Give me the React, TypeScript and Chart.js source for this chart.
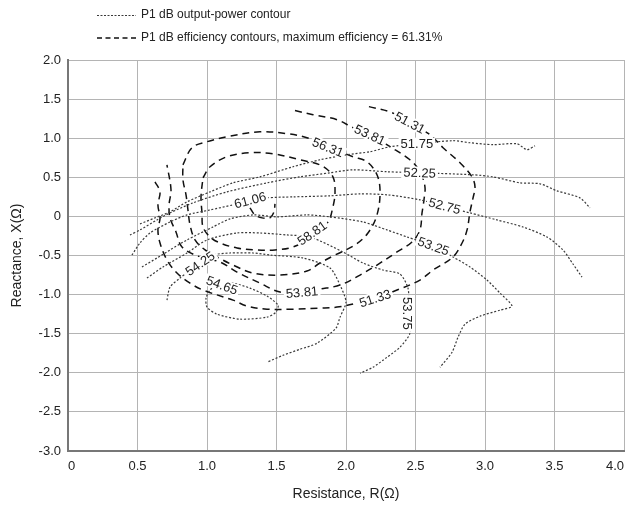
import React, { useEffect, useRef } from "react";
import { Chart, registerables } from "chart.js";

Chart.register(...registerables);

type Pt = [number, number];

const FONT = "'Liberation Sans', Arial, Helvetica, sans-serif";

const xTicks = [0, 0.5, 1, 1.5, 2, 2.5, 3, 3.5, 4];
const yTicks = [2, 1.5, 1, 0.5, 0, -0.5, -1, -1.5, -2, -2.5, -3];
const xTitle = "Resistance, R(Ω)";
const yTitle = "Reactance, X(Ω)";
const legendLabels = [
  "P1 dB output-power contour",
  "P1 dB efficiency contours, maximum efficiency = 61.31%",
];

// ---- P1 dB output-power contours (dotted) ----
const power5175: Pt[] = [
  [0.518, -0.096], [0.626, -0.019], [0.734, 0.058], [0.856, 0.186], [1.022, 0.314],
  [1.187, 0.429], [1.381, 0.506], [1.619, 0.635], [1.813, 0.724], [2.007, 0.788],
  [2.173, 0.827], [2.317, 0.891], [2.511, 0.929], [2.77, 0.968], [2.892, 0.942],
  [3.058, 0.917], [3.23, 0.929], [3.302, 0.853], [3.36, 0.904],
];
const power5225: Pt[] = [
  [0.446, -0.237], [0.518, -0.173], [0.64, -0.045], [0.734, 0.045], [0.899, 0.173],
  [1.144, 0.314], [1.432, 0.429], [1.669, 0.506], [1.885, 0.558], [2.05, 0.596],
  [2.295, 0.571], [2.532, 0.558], [2.914, 0.532], [3.058, 0.506], [3.252, 0.429],
  [3.396, 0.417], [3.518, 0.327], [3.683, 0.237], [3.755, 0.109],
];
const power5275: Pt[] = [
  [0.46, -0.494], [0.518, -0.34], [0.59, -0.212], [0.734, -0.071], [0.856, 0.019],
  [1.022, 0.083], [1.187, 0.147], [1.309, 0.199], [1.432, 0.237], [1.619, 0.25],
  [1.885, 0.263], [2.101, 0.288], [2.295, 0.276], [2.532, 0.212], [2.748, 0.109],
  [2.892, 0.045], [3.086, -0.045], [3.273, -0.135], [3.446, -0.263], [3.561, -0.429],
  [3.633, -0.609], [3.698, -0.776],
];
const power5325: Pt[] = [
  [0.532, -0.647], [0.64, -0.532], [0.734, -0.429], [0.856, -0.301], [1.043, -0.135],
  [1.165, -0.032], [1.331, 0.019], [1.504, -0.006], [1.719, 0.019], [1.885, -0.006],
  [2.122, -0.071], [2.295, -0.173], [2.439, -0.263], [2.626, -0.378], [2.77, -0.519],
  [2.892, -0.647], [3.014, -0.814], [3.108, -0.981], [3.194, -1.147], [3.108, -1.199],
  [2.964, -1.276], [2.856, -1.378], [2.806, -1.545], [2.763, -1.737], [2.676, -1.929],
];
const power5375: Pt[] = [
  [0.568, -0.788], [0.683, -0.647], [0.856, -0.468], [1.0, -0.301], [1.216, -0.212],
  [1.381, -0.212], [1.576, -0.237], [1.741, -0.263], [1.978, -0.455], [2.122, -0.596],
  [2.266, -0.686], [2.388, -0.737], [2.446, -0.917], [2.453, -1.199], [2.46, -1.494],
  [2.388, -1.673], [2.295, -1.801], [2.194, -1.929], [2.101, -2.006],
];
const power5425: Pt[] = [
  [0.712, -1.071], [0.734, -0.904], [0.806, -0.788], [0.95, -0.596], [1.043, -0.494],
  [1.165, -0.468], [1.331, -0.468], [1.453, -0.494], [1.691, -0.532], [1.885, -0.66],
  [1.957, -0.878], [2.0, -1.096], [1.957, -1.288], [1.928, -1.429], [1.791, -1.622],
  [1.669, -1.699], [1.547, -1.776], [1.432, -1.865],
];
const power5465: Pt[] = [
  [1.094, -0.84], [1.187, -0.853], [1.309, -0.917], [1.432, -1.019], [1.511, -1.135],
  [1.496, -1.224], [1.432, -1.288], [1.237, -1.314], [1.072, -1.25], [1.0, -1.16],
  [0.993, -1.045], [1.022, -0.942], [1.094, -0.84],
];

// ---- P1 dB efficiency contours (dashed) ----
const eff5131: Pt[] = [
  [2.165, 1.404], [2.331, 1.327], [2.46, 1.199], [2.604, 1.045], [2.698, 0.878],
  [2.82, 0.686], [2.906, 0.506], [2.928, 0.378], [2.914, 0.237], [2.892, 0.058],
  [2.871, -0.173], [2.835, -0.34], [2.77, -0.519], [2.626, -0.686], [2.532, -0.814],
  [2.367, -0.942], [2.209, -1.045], [2.079, -1.109], [1.935, -1.16], [1.813, -1.173],
  [1.619, -1.186], [1.432, -1.186], [1.288, -1.147], [1.187, -1.071], [0.971, -0.942],
  [0.878, -0.853], [0.784, -0.724], [0.712, -0.558], [0.662, -0.34], [0.647, -0.173],
  [0.662, -0.019], [0.647, 0.147], [0.662, 0.314], [0.626, 0.442],
];
const eff5381: Pt[] = [
  [1.633, 1.353], [1.763, 1.301], [1.935, 1.237], [2.05, 1.135], [2.173, 1.045],
  [2.317, 0.891], [2.46, 0.724], [2.532, 0.571], [2.568, 0.378], [2.561, 0.212],
  [2.547, 0.045], [2.532, -0.173], [2.475, -0.327], [2.367, -0.455], [2.223, -0.622],
  [2.101, -0.75], [1.957, -0.878], [1.813, -0.929], [1.683, -0.968], [1.525, -0.968],
  [1.381, -0.853], [1.216, -0.712], [1.094, -0.583], [0.95, -0.519], [0.82, -0.391],
  [0.777, -0.199], [0.734, -0.019], [0.727, 0.147], [0.741, 0.34], [0.712, 0.66],
];
const eff5631: Pt[] = [
  [0.827, 0.66], [0.892, 0.878], [1.0, 0.955], [1.144, 1.019], [1.381, 1.083],
  [1.576, 1.058], [1.719, 1.006], [1.871, 0.891], [2.05, 0.763], [2.151, 0.699],
  [2.223, 0.532], [2.245, 0.314], [2.223, 0.019], [2.158, -0.212], [2.065, -0.365],
  [1.921, -0.494], [1.813, -0.596], [1.719, -0.699], [1.525, -0.75], [1.331, -0.724],
  [1.187, -0.622], [1.072, -0.519], [0.986, -0.429], [0.914, -0.301], [0.878, -0.109],
  [0.863, 0.083], [0.849, 0.276], [0.827, 0.468], [0.827, 0.66],
];
const eff5881: Pt[] = [
  [0.971, 0.494], [1.022, 0.635], [1.144, 0.763], [1.309, 0.814], [1.475, 0.801],
  [1.669, 0.724], [1.827, 0.647], [1.906, 0.506], [1.921, 0.301], [1.906, 0.122],
  [1.871, -0.071], [1.763, -0.25], [1.619, -0.391], [1.489, -0.429], [1.345, -0.429],
  [1.216, -0.404], [1.094, -0.34], [1.022, -0.263], [0.971, -0.135], [0.964, 0.045],
  [0.957, 0.25], [0.971, 0.494],
];
const eff6106: Pt[] = [
  [1.309, 0.109], [1.345, 0.019], [1.396, -0.019], [1.453, -0.019], [1.482, 0.058],
  [1.489, 0.16],
];

// ---- contour labels ----
const contourLabels = [
  "51.75", "52.25", "52.75", "53.25", "53.75", "54.25", "54.65",
  "51.31", "51.33", "53.81", "53.81", "56.31", "58.81", "61.06",
];
const contourLabelX = [2.51, 2.53, 2.71, 2.63, 2.446, 0.95, 1.108, 2.46, 2.209, 2.173, 1.683, 1.871, 1.755, 1.31];
const contourLabelY = [0.93, 0.56, 0.135, -0.378, -1.24, -0.6, -0.878, 1.2, -1.045, 1.045, -0.968, 0.885, -0.212, 0.21];
const contourLabelAngle = [0, 2, 15, 20, 90, -35, 20, 28, -18, 25, -5, 22, -35, -15];

const powerContours = [power5175, power5225, power5275, power5325, power5375, power5425, power5465];
const effContours = [eff5131, eff5381, eff5631, eff5881, eff6106];

const labelPlugin = {
  id: "contourLabels",
  afterDatasetsDraw(chart: any) {
    const { ctx } = chart;
    const xs = chart.scales.x;
    const ys = chart.scales.y;
    ctx.save();
    ctx.font = `13px ${FONT}`;
    ctx.textAlign = "center";
    ctx.textBaseline = "middle";
    contourLabels.forEach((t, i) => {
      const px = xs.getPixelForValue(contourLabelX[i]);
      const py = ys.getPixelForValue(contourLabelY[i]);
      ctx.save();
      ctx.translate(px, py);
      ctx.rotate((contourLabelAngle[i] * Math.PI) / 180);
      const w = ctx.measureText(t).width;
      ctx.fillStyle = "#ffffff";
      ctx.fillRect(-w / 2 - 2, -6, w + 4, 12);
      ctx.fillStyle = "#222";
      ctx.fillText(t, 0, 1);
      ctx.restore();
    });
    ctx.restore();
  },
};

const legendPlugin = {
  id: "topLegend",
  afterDraw(chart: any) {
    const { ctx } = chart;
    ctx.save();
    ctx.font = `12px ${FONT}`;
    ctx.fillStyle = "#222";
    ctx.textBaseline = "middle";
    ctx.textAlign = "left";
    ctx.strokeStyle = "#3a3a3a";
    ctx.lineWidth = 1.1;
    ctx.setLineDash([2, 1.5]);
    ctx.beginPath();
    ctx.moveTo(97, 15.5);
    ctx.lineTo(136, 15.5);
    ctx.stroke();
    ctx.fillText(legendLabels[0], 141, 15);
    ctx.strokeStyle = "#111";
    ctx.lineWidth = 1.6;
    ctx.setLineDash([5, 3.5]);
    ctx.beginPath();
    ctx.moveTo(97, 38);
    ctx.lineTo(137, 38);
    ctx.stroke();
    ctx.fillText(legendLabels[1], 141, 38);
    ctx.restore();
  },
};

export default function App() {
  const ref = useRef<HTMLCanvasElement | null>(null);

  useEffect(() => {
    if (!ref.current) return;
    const datasets: any[] = [
      ...powerContours.map((c) => ({
        data: c.map(([x, y]) => ({ x, y })),
        borderColor: "#3a3a3a",
        borderWidth: 1.2,
        borderDash: [2, 1.8],
        pointRadius: 0,
        showLine: true,
        tension: 0.25,
        fill: false,
      })),
      ...effContours.map((c) => ({
        data: c.map(([x, y]) => ({ x, y })),
        borderColor: "#111",
        borderWidth: 1.5,
        borderDash: [7, 5],
        pointRadius: 0,
        showLine: true,
        tension: 0.35,
        fill: false,
      })),
    ];
    const chart = new Chart(ref.current, {
      type: "scatter",
      data: { datasets },
      plugins: [labelPlugin, legendPlugin],
      options: {
        animation: false,
        responsive: false,
        layout: { padding: { top: 60, right: 16, left: 0, bottom: 0 } },
        plugins: { legend: { display: false }, tooltip: { enabled: false } },
        scales: {
          x: {
            type: "linear",
            min: 0,
            max: 4,
            afterBuildTicks: (s: any) => {
              s.ticks = xTicks.map((v) => ({ value: v }));
            },
            afterFit: (s: any) => {
              s.height = 54;
            },
            ticks: {
              callback: (v: any) => (Number(v) === 0 ? "0" : Number(v).toFixed(1)),
              font: { size: 13, family: FONT },
              color: "#222",
              padding: 8,
              maxRotation: 0,
              autoSkip: false,
              align: "inner",
            },
            grid: { color: "#b4b4b4", lineWidth: 1, drawTicks: false },
            border: { color: "#777", width: 2 },
            title: {
              display: true,
              text: xTitle,
              font: { size: 14, family: FONT },
              color: "#222",
              padding: { top: 4, bottom: 2 },
            },
          },
          y: {
            type: "linear",
            min: -3,
            max: 2,
            afterBuildTicks: (s: any) => {
              s.ticks = yTicks.map((v) => ({ value: v }));
            },
            afterFit: (s: any) => {
              s.width = 68;
            },
            ticks: {
              callback: (v: any) => (Number(v) === 0 ? "0" : Number(v).toFixed(1)),
              font: { size: 13, family: FONT },
              color: "#222",
              padding: 7,
              autoSkip: false,
            },
            grid: { color: "#b4b4b4", lineWidth: 1, drawTicks: false },
            border: { color: "#777", width: 2 },
            title: {
              display: true,
              text: yTitle,
              font: { size: 14, family: FONT },
              color: "#222",
              padding: { top: 9, bottom: 2 },
            },
          },
        },
      } as any,
    });
    return () => chart.destroy();
  }, []);

  return (
    <div style={{ position: "fixed", left: 0, top: 0, width: 625, height: 505, overflow: "hidden", background: "#fff" }}>
      <canvas ref={ref} width={640} height={505} style={{ display: "block" }} />
    </div>
  );
}
